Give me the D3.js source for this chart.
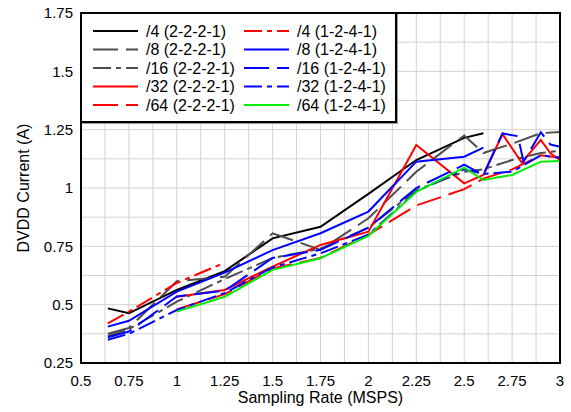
<!DOCTYPE html>
<html>
<head>
<meta charset="utf-8">
<script src="https://d3js.org/d3.v7.min.js"></script>
<style>
  body { margin: 0; background: #fff; }
  text { font-family: "Liberation Sans", Arial, sans-serif; fill: #000; }
</style>
</head>
<body>
<svg id="chart" width="571" height="412"></svg>
<script>
// axis ticks
const xTicks = [0.5, 0.75, 1, 1.25, 1.5, 1.75, 2, 2.25, 2.5, 2.75, 3];
const yTicks = [0.25, 0.5, 0.75, 1, 1.25, 1.5, 1.75];

// series: sampling rate (MSPS) and DVDD current (A)
const rate_4_2221  = [0.64, 0.75, 1.0, 1.25, 1.5, 1.75, 2.0, 2.25, 2.5, 2.6];
const dvdd_4_2221  = [0.484, 0.463, 0.563, 0.644, 0.784, 0.834, 0.975, 1.12, 1.215, 1.235];

const rate_8_2221  = [0.64, 0.75, 1.0, 1.25, 1.5, 1.75, 2.0, 2.25, 2.5, 2.6, 2.75, 2.9, 3.0];
const dvdd_8_2221  = [0.375, 0.40, 0.60, 0.62, 0.806, 0.735, 0.87, 1.07, 1.225, 1.15, 1.19, 1.235, 1.24];

const rate_16_2221 = [0.64, 0.75, 1.0, 1.25, 1.5, 1.75, 2.0, 2.25, 2.5, 2.6, 2.75, 2.9, 3.0];
const dvdd_16_2221 = [0.366, 0.395, 0.513, 0.61, 0.70, 0.74, 0.83, 0.99, 1.07, 1.08, 1.12, 1.15, 1.16];

const rate_32_2221 = [1.0, 1.25, 1.5, 1.75, 2.0, 2.25, 2.5, 2.6, 2.7, 2.8, 2.9, 2.95, 3.0];
const dvdd_32_2221 = [0.534, 0.563, 0.663, 0.756, 0.813, 1.184, 1.02, 1.056, 1.231, 1.109, 1.206, 1.149, 1.12];

const rate_64_2221 = [1.0, 1.25, 1.5, 1.75, 2.0, 2.25, 2.5, 2.6, 2.75, 2.9, 3.0];
const dvdd_64_2221 = [0.48, 0.545, 0.655, 0.70, 0.80, 0.925, 0.995, 1.04, 1.08, 1.14, 1.13];

const rate_4_1241  = [0.64, 0.75, 1.0, 1.25];
const dvdd_4_1241  = [0.42, 0.47, 0.593, 0.68];

const rate_8_1241  = [0.64, 0.75, 1.0, 1.25, 1.5, 1.75, 2.0, 2.25, 2.5, 2.6];
const dvdd_8_1241  = [0.406, 0.431, 0.556, 0.637, 0.734, 0.806, 0.899, 1.113, 1.134, 1.173];

const rate_16_1241 = [0.64, 0.75, 1.0, 1.25, 1.5, 1.75, 2.0, 2.25, 2.5, 2.6, 2.7, 2.78, 2.81, 2.9, 2.95, 3.0];
const dvdd_16_1241 = [0.36, 0.385, 0.535, 0.56, 0.70, 0.735, 0.83, 1.0, 1.1, 1.056, 1.234, 1.222, 1.113, 1.239, 1.186, 1.177];

const rate_32_1241 = [0.64, 0.75, 1.0, 1.25, 1.5, 1.75, 2.0, 2.25, 2.5, 2.6, 2.75, 2.9, 3.0];
const dvdd_32_1241 = [0.35, 0.375, 0.477, 0.55, 0.66, 0.72, 0.80, 0.985, 1.08, 1.06, 1.07, 1.14, 1.13];

const rate_64_1241 = [1.0, 1.25, 1.5, 1.75, 2.0, 2.25, 2.5, 2.6, 2.75, 2.9, 3.0];
const dvdd_64_1241 = [0.47, 0.534, 0.649, 0.699, 0.795, 0.984, 1.087, 1.034, 1.056, 1.113, 1.116];

const longDash = "25,8";
const dashDot = "18,5,5,5";

const series = [
  {name: "/4 (2-2-2-1)",  x: rate_4_2221,  y: dvdd_4_2221,  color: "#000000", dash: null},
  {name: "/8 (2-2-2-1)",  x: rate_8_2221,  y: dvdd_8_2221,  color: "#4d4d4d", dash: longDash},
  {name: "/16 (2-2-2-1)", x: rate_16_2221, y: dvdd_16_2221, color: "#4d4d4d", dash: dashDot},
  {name: "/32 (2-2-2-1)", x: rate_32_2221, y: dvdd_32_2221, color: "#ff0000", dash: null},
  {name: "/64 (2-2-2-1)", x: rate_64_2221, y: dvdd_64_2221, color: "#ff0000", dash: longDash},
  {name: "/4 (1-2-4-1)",  x: rate_4_1241,  y: dvdd_4_1241,  color: "#ff0000", dash: dashDot},
  {name: "/8 (1-2-4-1)",  x: rate_8_1241,  y: dvdd_8_1241,  color: "#0000ff", dash: null},
  {name: "/16 (1-2-4-1)", x: rate_16_1241, y: dvdd_16_1241, color: "#0000ff", dash: longDash},
  {name: "/32 (1-2-4-1)", x: rate_32_1241, y: dvdd_32_1241, color: "#0000ff", dash: dashDot},
  {name: "/64 (1-2-4-1)", x: rate_64_1241, y: dvdd_64_1241, color: "#00ee00", dash: null}
];

const svg = d3.select("#chart");
const pLeft = 81, pRight = 560, pTop = 13, pBottom = 363;

const x = d3.scaleLinear().domain([0.5, 3]).range([pLeft, pRight]);
const y = d3.scaleLinear().domain([0.25, 1.75]).range([pBottom, pTop]);

// grid every 0.125
const grid = svg.append("g").attr("stroke", "#d2d2d2").attr("stroke-width", 1);
grid.selectAll("line.v").data(d3.range(0.625, 3, 0.125)).join("line")
    .attr("class", "v")
    .attr("x1", d => x(d)).attr("x2", d => x(d))
    .attr("y1", pTop).attr("y2", pBottom);
grid.selectAll("line.h").data(d3.range(0.375, 1.75, 0.125)).join("line")
    .attr("class", "h")
    .attr("x1", pLeft).attr("x2", pRight)
    .attr("y1", d => y(d)).attr("y2", d => y(d));

// lines
const line = d3.line().x(d => x(d[0])).y(d => y(d[1]));
const plot = svg.append("g");
series.forEach(s => {
  plot.append("path")
      .datum(s.x.map((v, i) => [v, s.y[i]]))
      .attr("d", line)
      .attr("fill", "none")
      .attr("stroke", s.color)
      .attr("stroke-width", 2)
      .attr("stroke-dasharray", s.dash);
});

// frame
svg.append("rect")
   .attr("x", pLeft).attr("y", pTop)
   .attr("width", pRight - pLeft).attr("height", pBottom - pTop)
   .attr("fill", "none").attr("stroke", "#000").attr("stroke-width", 2);

// tick labels
svg.append("g").selectAll("text").data(xTicks).join("text")
   .attr("x", d => x(d)).attr("y", 386)
   .attr("text-anchor", "middle").attr("font-size", 15)
   .text(d => d);
svg.append("g").selectAll("text").data(yTicks).join("text")
   .attr("x", 73).attr("y", d => y(d)).attr("dy", "0.35em")
   .attr("text-anchor", "end").attr("font-size", 15)
   .text(d => d);

// axis titles
svg.append("text")
   .attr("x", (pLeft + pRight) / 2).attr("y", 403)
   .attr("text-anchor", "middle").attr("font-size", 16)
   .text("Sampling Rate (MSPS)");
svg.append("text")
   .attr("transform", "translate(29," + ((pTop + pBottom) / 2) + ") rotate(-90)")
   .attr("text-anchor", "middle").attr("font-size", 16)
   .text("DVDD Current (A)");

// legend
const legend = svg.append("g");
legend.append("rect")
   .attr("x", pLeft + 1).attr("y", pTop + 1).attr("width", 316).attr("height", 110)
   .attr("fill", "#999");
legend.append("rect")
   .attr("x", pLeft).attr("y", pTop).attr("width", 315).attr("height", 109)
   .attr("fill", "#fff").attr("stroke", "#000").attr("stroke-width", 2);

series.forEach((s, i) => {
  const col = Math.floor(i / 5), row = i % 5;
  const lx = col === 0 ? 93 : 244;
  const ly = 31 + row * 18.5;
  legend.append("line")
     .attr("x1", lx).attr("x2", lx + 45).attr("y1", ly).attr("y2", ly)
     .attr("stroke", s.color).attr("stroke-width", 2)
     .attr("stroke-dasharray", s.dash);
  legend.append("text")
     .attr("x", lx + 53).attr("y", ly).attr("dy", "0.35em")
     .attr("font-size", 16)
     .text(s.name);
});
</script>
</body>
</html>
